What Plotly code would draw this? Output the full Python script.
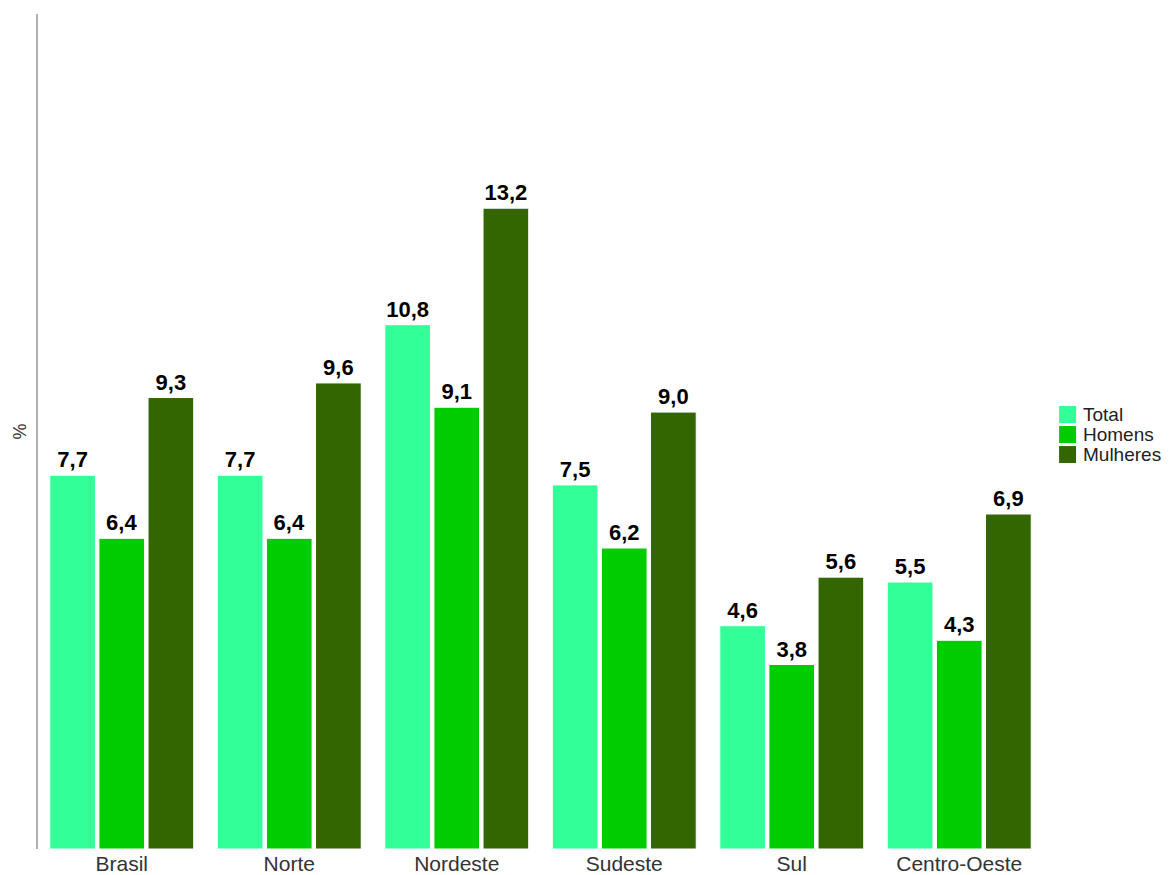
import plotly.graph_objects as go

regioes = ["Brasil", "Norte", "Nordeste", "Sudeste", "Sul", "Centro-Oeste"]
total = [7.7, 7.7, 10.8, 7.5, 4.6, 5.5]
homens = [6.4, 6.4, 9.1, 6.2, 3.8, 4.3]
mulheres = [9.3, 9.6, 13.2, 9.0, 5.6, 6.9]

series = [("Total", total, "#33FF99"), ("Homens", homens, "#00CC00"), ("Mulheres", mulheres, "#336600")]

FONTE = "Liberation Sans, Arial, Helvetica"

fig = go.Figure()
for nome, vals, cor in series:
    fig.add_trace(go.Bar(
        x=regioes, y=vals, name=nome,
        marker=dict(color=cor, line=dict(color="white", width=1)),
        texttemplate="<b>%{y:.1f}</b>", textposition="outside",
        textfont=dict(size=22, color="black", family=FONTE),
        cliponaxis=False, showlegend=False,
    ))

fig.update_layout(
    width=1172, height=875,
    paper_bgcolor="white", plot_bgcolor="white",
    separators=",.",
    barmode="group", bargap=0.12, bargroupgap=0.07,
    margin=dict(l=30, r=137, t=6, b=34, autoexpand=False),
    font=dict(family=FONTE, color="#333333"),
    xaxis=dict(showline=False, showgrid=False, ticks="", automargin=False,
               tickfont=dict(size=21, color="#333333")),
    yaxis=dict(range=[0, 17.2], showline=True, linecolor="#b0b0b0", linewidth=2,
               showgrid=False, zeroline=False, showticklabels=False, ticks="",
               automargin=False),
    uniformtext=dict(mode=False),
)

# y-axis title
fig.add_annotation(text="%", xref="paper", yref="paper", x=-0.018, y=0.5,
                   xanchor="center", yanchor="middle", textangle=-90, showarrow=False,
                   font=dict(size=18, color="#333333"))

# legend drawn by hand (tight squares like the original)
for i, (nome, vals, cor) in enumerate(series):
    ytop = 0.5305 - i * 20 / 835
    fig.add_shape(type="rect", xref="paper", yref="paper",
                  xsizemode="pixel", ysizemode="pixel",
                  xanchor=1.016, yanchor=ytop, x0=0, x1=17, y0=-17, y1=0,
                  fillcolor=cor, line=dict(width=0))
    fig.add_annotation(text=nome, xref="paper", yref="paper",
                       x=1.0375, y=ytop - 8.5 / 835, xanchor="left", yanchor="middle",
                       showarrow=False, font=dict(size=19, color="#222222"))

fig.write_html("out.html")
